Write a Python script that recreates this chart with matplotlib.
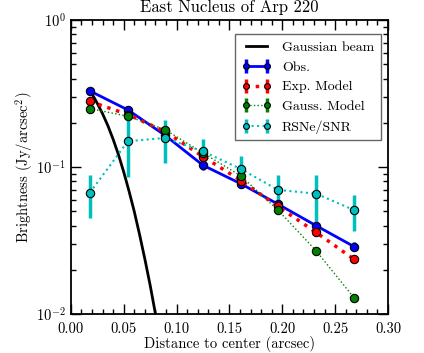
import matplotlib
matplotlib.use("Agg")
import matplotlib.pyplot as plt
from matplotlib.ticker import MultipleLocator

plt.rcParams['font.family'] = 'serif'
plt.rcParams['font.serif'] = ['cmr10', 'DejaVu Serif']
plt.rcParams['mathtext.fontset'] = 'cm'
plt.rcParams['axes.unicode_minus'] = False
plt.rcParams['axes.formatter.use_mathtext'] = True

# data
x = [0.018, 0.054, 0.089, 0.125, 0.161, 0.196, 0.232, 0.268]
obs = [0.33, 0.245, 0.165, 0.103, 0.077, 0.056, 0.040, 0.0288]
obs_err = [0.015, 0.015, 0.01, 0.008, 0.005, 0.004, 0.003, 0.002]
exp_model = [0.28, 0.228, 0.175, 0.118, 0.081, 0.054, 0.036, 0.0236]
gauss_model = [0.25, 0.222, 0.18, 0.125, 0.087, 0.051, 0.027, 0.0129]
rsne = [0.067, 0.150, 0.158, 0.128, 0.097, 0.070, 0.066, 0.051]
rsne_err = [0.022, 0.064, 0.052, 0.028, 0.023, 0.018, 0.023, 0.014]
beam_x = [0.018, 0.025, 0.03, 0.035, 0.04, 0.045, 0.05, 0.055, 0.06, 0.065,
          0.07, 0.075, 0.08, 0.085, 0.09]
beam_y = [0.335, 0.272, 0.231, 0.192, 0.155, 0.122, 0.093, 0.069, 0.050,
          0.0349, 0.0238, 0.0158, 0.0101, 0.0063, 0.0038]

fig = plt.figure(figsize=(4.24, 3.53), dpi=100)
ax = fig.add_axes([0.167, 0.11, 0.748, 0.833])

ax.plot(beam_x, beam_y, color='k', lw=2, label='Gaussian beam')
ax.errorbar(x, obs, yerr=obs_err, color='b', lw=2, elinewidth=2.5, marker='o',
            ms=6, mfc='b', mec='k', mew=0.8, label='Obs.')
ax.errorbar(x, exp_model, yerr=[0]*len(x), color='r', lw=2.5, ls=':', elinewidth=2.5,
            marker='o', ms=6, mfc='r', mec='k', mew=0.8, label='Exp. Model')
ax.errorbar(x, gauss_model, yerr=[0]*len(x), color='g', lw=1, ls=':', elinewidth=2.5,
            marker='o', ms=6, mfc='g', mec='k', mew=0.8, label='Gauss. Model')
ax.errorbar(x, rsne, yerr=rsne_err, color='c', lw=1.5, ls=':', elinewidth=2.5,
            marker='o', ms=6, mfc='c', mec='k', mew=0.8, label='RSNe/SNR')

ax.set_yscale('log')
ax.set_xlim(0, 0.30)
ax.set_ylim(0.01, 1.0)
ax.xaxis.set_major_locator(MultipleLocator(0.05))
ax.xaxis.set_minor_locator(MultipleLocator(0.01))
ax.xaxis.set_major_formatter(matplotlib.ticker.FormatStrFormatter('%.2f'))
ax.tick_params(which='both', direction='in', top=True, right=True, labelsize=10.5)
ax.tick_params(which='major', length=7, width=1)
ax.tick_params(which='minor', length=3.5, width=1)
ax.tick_params(axis='x', pad=6)
for s in ax.spines.values():
    s.set_linewidth(1.3)

ax.set_title('East Nucleus of Arp 220', fontsize=12)
ax.set_xlabel('Distance to center (arcsec)', fontsize=10.5, labelpad=0)
ax.set_ylabel('Brightness (Jy/arcsec$^2$)', fontsize=10.5, labelpad=1)

leg = ax.legend(loc='upper right', bbox_to_anchor=(1.0, 0.975), fontsize=10,
                fancybox=False, framealpha=1, edgecolor='0.4', handlelength=2.1,
                numpoints=2, markerscale=0.7, handletextpad=0.8, borderpad=0.5)

fig.savefig('out.png', dpi=100)
